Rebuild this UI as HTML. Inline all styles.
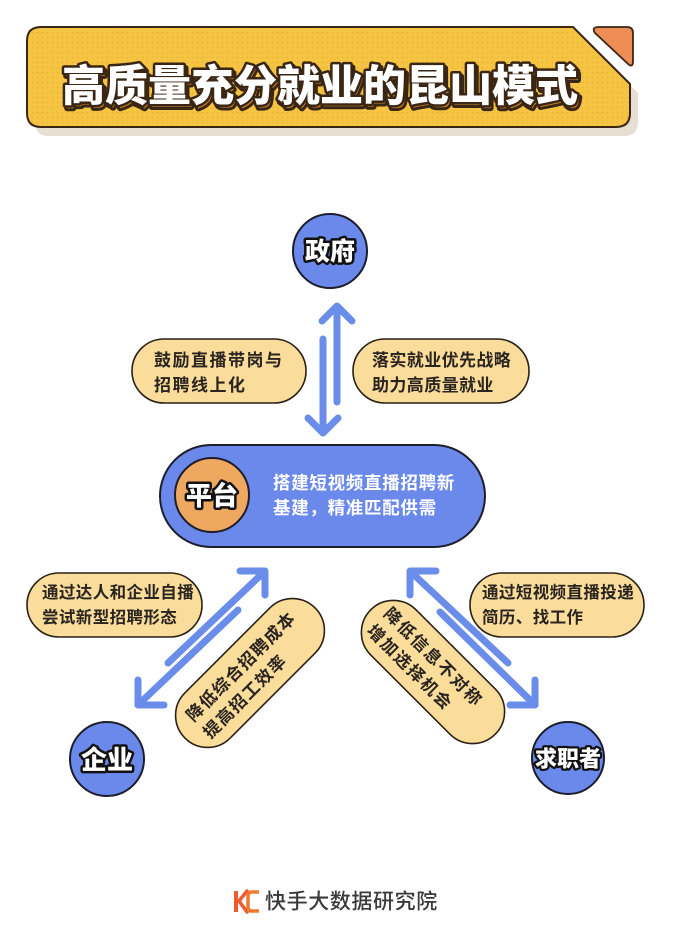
<!DOCTYPE html>
<html>
<head>
<meta charset="utf-8">
<style>
  html,body{margin:0;padding:0;background:#fff;}
  body{width:673px;height:952px;overflow:hidden;}
  svg{display:block;}
  text{font-family:"Liberation Sans","Noto Sans CJK SC",sans-serif;}
</style>
</head>
<body>
<svg width="673" height="952" viewBox="0 0 673 952" xmlns="http://www.w3.org/2000/svg">
  <defs>
    <pattern id="dots" x="0" y="0" width="5" height="5" patternUnits="userSpaceOnUse">
      <rect width="5" height="5" fill="#f6c443"/>
      <circle cx="2.5" cy="2.5" r="0.8" fill="#e9b02f"/>
    </pattern>
  </defs>

  <!-- Title banner -->
  <path d="M 41 27 H 573 L 630 84 V 113 Q 630 127 616 127 H 41 Q 27 127 27 113 V 41 Q 27 27 41 27 Z" fill="#e7dfd2" transform="translate(8,9)"/>
  <path d="M 41 27 H 573 L 630 84 V 113 Q 630 127 616 127 H 41 Q 27 127 27 113 V 41 Q 27 27 41 27 Z" fill="url(#dots)" stroke="#3a2614" stroke-width="2" stroke-linejoin="round"/>
  <path d="M 599 27 H 627 Q 633 27 633 33 V 61 Q 633 69 627 63 L 595 33 Q 591 27 599 27 Z" fill="#ee8d55" stroke="#3a2614" stroke-width="1.8" stroke-linejoin="round"/>

  <text x="64" y="90" font-size="43" font-weight="900" dominant-baseline="central" textLength="516" lengthAdjust="spacing" fill="#d4842a" stroke="#3a2614" stroke-width="6" stroke-linejoin="round" paint-order="stroke">高质量充分就业的昆山模式</text>
  <text x="62" y="87" font-size="43" font-weight="900" dominant-baseline="central" textLength="516" lengthAdjust="spacing" fill="#ffffff" stroke="#3a2614" stroke-width="5" stroke-linejoin="round" paint-order="stroke">高质量充分就业的昆山模式</text>

  <!-- 政府 -->
  <circle cx="330" cy="251" r="37" fill="#6a89ea" stroke="#1d1d2b" stroke-width="2"/>
  <text x="330" y="252" font-size="25" font-weight="900" text-anchor="middle" dominant-baseline="central" fill="#fff" stroke="#111" stroke-width="5" stroke-linejoin="round" paint-order="stroke">政府</text>

  <!-- vertical arrows -->
  <g stroke="#6a8de9" stroke-width="7" stroke-linecap="round" stroke-linejoin="round" fill="none">
    <line x1="337" y1="307" x2="337" y2="402"/>
    <polyline points="322,321 337,306 352,321"/>
    <line x1="323" y1="339" x2="323" y2="432"/>
    <polyline points="308,418 323,433 338,418"/>
  </g>

  <!-- top pills -->
  <rect x="132" y="339" width="174" height="64" rx="32" fill="#fadd9b" stroke="#2a2117" stroke-width="1.6"/>
  <text font-size="17" font-weight="700" fill="#2a2420" letter-spacing="1.5" dominant-baseline="central">
    <tspan x="154" y="360">鼓励直播带岗与</tspan>
    <tspan x="154" y="385">招聘线上化</tspan>
  </text>
  <rect x="353" y="339" width="176" height="64" rx="32" fill="#fadd9b" stroke="#2a2117" stroke-width="1.6"/>
  <text font-size="17" font-weight="700" fill="#2a2420" letter-spacing="0.4" dominant-baseline="central">
    <tspan x="372" y="360">落实就业优先战略</tspan>
    <tspan x="372" y="385">助力高质量就业</tspan>
  </text>

  <!-- platform -->
  <rect x="160" y="445" width="325" height="102" rx="51" fill="#6a89ea" stroke="#1d1d2b" stroke-width="2"/>
  <circle cx="212" cy="495" r="37" fill="#eea860" stroke="#1d1d2b" stroke-width="2"/>
  <text x="212" y="496" font-size="26" font-weight="900" text-anchor="middle" dominant-baseline="central" fill="#fff" stroke="#111" stroke-width="5" stroke-linejoin="round" paint-order="stroke">平台</text>
  <text font-size="17.5" font-weight="700" fill="#ffffff" letter-spacing="0.7" dominant-baseline="central">
    <tspan x="273" y="483">搭建短视频直播招聘新</tspan>
    <tspan x="273" y="508">基建，精准匹配供需</tspan>
  </text>

  <!-- bottom side pills -->
  <rect x="27" y="573" width="175" height="64" rx="32" fill="#fadd9b" stroke="#2a2117" stroke-width="1.6"/>
  <text font-size="16.5" font-weight="700" fill="#2a2420" letter-spacing="0.4" dominant-baseline="central">
    <tspan x="42" y="593">通过达人和企业自播</tspan>
    <tspan x="42" y="618">尝试新型招聘形态</tspan>
  </text>
  <rect x="470" y="573" width="174" height="64" rx="32" fill="#fadd9b" stroke="#2a2117" stroke-width="1.6"/>
  <text font-size="16.5" font-weight="700" fill="#2a2420" letter-spacing="0.4" dominant-baseline="central">
    <tspan x="482" y="593">通过短视频直播投递</tspan>
    <tspan x="482" y="618">简历、找工作</tspan>
  </text>

  <!-- diagonal arrows -->
  <g stroke="#6a8de9" stroke-width="7" stroke-linecap="round" stroke-linejoin="round" fill="none">
    <line x1="168" y1="663" x2="264" y2="572"/>
    <polyline points="240,571 265,571 265,595"/>
    <line x1="238" y1="610" x2="139" y2="704"/>
    <polyline points="138,680 138,705 164,705"/>

    <line x1="508" y1="663" x2="411" y2="572"/>
    <polyline points="436,571 410,571 410,595"/>
    <line x1="440" y1="612" x2="534" y2="704"/>
    <polyline points="535,680 535,705 510,705"/>
  </g>

  <!-- rotated pills -->
  <g transform="translate(250,673) rotate(-45)">
    <rect x="-92" y="-32" width="184" height="64" rx="32" fill="#fadd9b" stroke="#2a2117" stroke-width="1.6"/>
    <text font-size="17" font-weight="700" fill="#2a2420" letter-spacing="1.3" dominant-baseline="central">
      <tspan x="-75" y="-11">降低综合招聘成本</tspan>
      <tspan x="-75" y="13">提高招工效率</tspan>
    </text>
  </g>
  <g transform="translate(433,672) rotate(45)">
    <rect x="-88" y="-32" width="176" height="64" rx="32" fill="#fadd9b" stroke="#2a2117" stroke-width="1.6"/>
    <text font-size="17" font-weight="700" fill="#2a2420" letter-spacing="1.8" dominant-baseline="central">
      <tspan x="-76" y="-11">降低信息不对称</tspan>
      <tspan x="-76" y="13">增加选择机会</tspan>
    </text>
  </g>

  <!-- 企业 -->
  <circle cx="107" cy="759" r="37" fill="#6a89ea" stroke="#1d1d2b" stroke-width="2"/>
  <text x="107" y="760" font-size="26" font-weight="900" text-anchor="middle" dominant-baseline="central" fill="#fff" stroke="#111" stroke-width="5" stroke-linejoin="round" paint-order="stroke">企业</text>

  <!-- 求职者 -->
  <circle cx="568" cy="758" r="36" fill="#6a89ea" stroke="#1d1d2b" stroke-width="2"/>
  <text x="568" y="759" font-size="22" font-weight="900" text-anchor="middle" dominant-baseline="central" fill="#fff" stroke="#111" stroke-width="4.5" stroke-linejoin="round" paint-order="stroke">求职者</text>

  <!-- footer logo -->
  <g>
    <rect x="234" y="891" width="4" height="21" fill="#f15a2b"/>
    <path d="M 239 901 L 247 891 M 239 901 L 247 912" stroke="#f15a2b" stroke-width="3.5" fill="none" stroke-linecap="round"/>
    <path d="M 259 892 H 252 Q 248 892 248 896 V 907 Q 248 911 252 911 H 259" stroke="#f0792e" stroke-width="3.5" fill="none"/>
  </g>
  <text x="265" y="902" font-size="21" font-weight="500" fill="#3a3a3a" dominant-baseline="central" letter-spacing="0.6">快手大数据研究院</text>
</svg>
</body>
</html>
